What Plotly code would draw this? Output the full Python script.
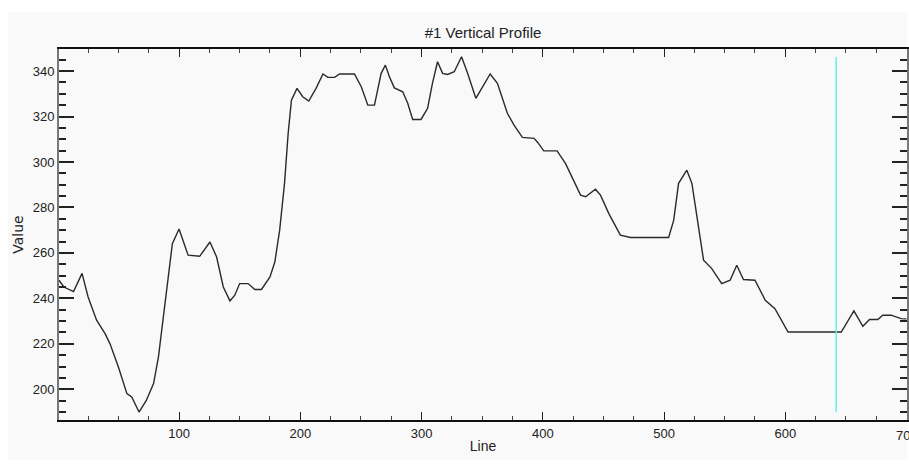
import plotly.graph_objects as go

# Profile data (Line index vs Value)
line_idx = [1, 5, 13, 20, 25, 32, 39, 43, 50, 57, 61, 67, 73, 79, 83, 87, 91, 94.5, 100,
            107.5, 117, 125.5, 131, 136.5, 142, 146, 150, 157, 162.5, 168, 175, 179, 183,
            187, 190, 192.7, 197.3, 202, 207, 213, 218.7, 222.8, 228.3, 232.4, 244.7, 250.3,
            255.7, 261.2, 266.7, 270.2, 273.5, 277.6, 284.5, 288.6, 292.7, 299.6, 305, 309,
            313.2, 317.4, 321.5, 327, 333, 338, 344.8, 350.3, 356.6, 362.6, 370.8, 376.3,
            383.2, 392.8, 396, 400.8, 411.8, 418.7, 424.2, 431.2, 435.3, 443.5, 447.6, 454.5,
            464, 472.3, 503.8, 508, 512, 518.8, 523, 527, 532.6, 539.4, 547.6, 554.5, 560,
            565.5, 575, 583.5, 591.5, 602.3, 646.2, 656.6, 664, 669.5, 676.3, 680.4, 687.3,
            695.5, 700]
values = [248, 245, 243, 251, 240.6, 230.4, 224.5, 220.1, 209.8, 198.1, 196.6, 190, 195.1,
          202.5, 214.2, 231.8, 250.9, 264.1, 270.5, 259, 258.5, 264.8, 258.2, 245, 238.9,
          241.4, 246.5, 246.5, 243.9, 243.9, 249.4, 256, 270, 290.6, 312.6, 327.2, 332.4,
          328.7, 326.8, 332.4, 338.7, 337.2, 337.2, 338.7, 338.7, 333.1, 325, 325, 339,
          342.6, 337.5, 332.6, 330.9, 325.8, 318.7, 318.7, 323.6, 334.6, 344.1, 339, 338.5,
          339.7, 346.3, 339, 328, 333.1, 338.7, 334.6, 321.4, 316.2, 310.8, 310.4, 308.5,
          304.9, 304.9, 299.4, 293.5, 285.4, 284.7, 288, 285.4, 277.3, 267.8, 266.8, 266.8,
          274.4, 290.6, 296.4, 290.6, 277.3, 256.8, 253.1, 246.5, 248, 254.6, 248.3, 248,
          239.2, 235.5, 225.2, 225.2, 234.5, 227.7, 230.7, 230.7, 232.6, 232.6, 231.1, 231]

cursor_line = [642]
cursor_span = [190, 346.2]

x_range = [1, 700.4]
y_range = [186.5, 349.7]
x_ticks = [100, 200, 300, 400, 500, 600, 700]

title_text = "#1 Vertical Profile"
x_title = "Line"
y_title = "Value"

FONT = "Liberation Sans, Arial, sans-serif"

fig = go.Figure()
fig.add_trace(go.Scatter(x=line_idx, y=values, mode="lines",
                         line=dict(color="#2a2a2a", width=1.4), hoverinfo="skip"))
fig.add_trace(go.Scatter(x=cursor_line * 2, y=cursor_span, mode="lines",
                         line=dict(color="#5ff2f2", width=1.5), hoverinfo="skip"))

W, H = 909, 465
L, R, T, B = 59, 0, 49, 45
pw, ph = W - L - R, H - T - B

def px2paper_x(px):
    return (px - L) / pw

def py2paper_y(py):
    return (H - B - py) / ph

fig.add_shape(type="rect", xref="paper", yref="paper", layer="below",
              x0=px2paper_x(8), x1=px2paper_x(909), y0=py2paper_y(460), y1=py2paper_y(12),
              fillcolor="#f9f9f9", line=dict(width=0))

# the last tick label (700) overflows the page edge and is clipped in the reference;
# plotly drops such labels, so draw it as an annotation at the tick position
fig.add_annotation(x=x_ticks[-1], xref="x", y=0, yref="paper", yshift=-6,
                   text=str(x_ticks[-1]), showarrow=False, xanchor="center", yanchor="top",
                   font=dict(family=FONT, size=13, color="#222"))

fig.update_layout(
    width=W, height=H,
    margin=dict(l=L, r=R, t=T, b=B),
    paper_bgcolor="white", plot_bgcolor="#f9f9f9",
    showlegend=False,
    font=dict(family=FONT, color="#222", size=13),
    title=dict(text=title_text, x=483 / W, xanchor="center",
               y=1 - 33 / H, yanchor="middle", font=dict(family=FONT, size=15, color="#222")),
)
fig.update_xaxes(
    range=x_range, showgrid=False, zeroline=False,
    showline=True, linecolor="#111", linewidth=2, mirror="ticks",
    ticks="inside", ticklen=8, tickwidth=1, tickcolor="#222",
    tickmode="array", tickvals=x_ticks, ticktext=[str(t) for t in x_ticks],
    minor=dict(ticks="inside", ticklen=4, dtick=25, tick0=0, tickcolor="#444", showgrid=False),
    tickfont=dict(family=FONT, size=13, color="#222"),
    title=dict(text=x_title, font=dict(family=FONT, size=14, color="#222"), standoff=2),
)
fig.update_yaxes(
    range=y_range, showgrid=False, zeroline=False,
    showline=True, linecolor="#777", linewidth=2, mirror="ticks",
    ticks="inside", ticklen=15, tickwidth=2, tickcolor="#222",
    dtick=20, tick0=0,
    minor=dict(ticks="inside", ticklen=7, dtick=5, tick0=0, tickcolor="#222", tickwidth=2,
               showgrid=False),
    tickfont=dict(family=FONT, size=13, color="#222"),
    title=dict(text=y_title, font=dict(family="DejaVu Sans, sans-serif", size=14, color="#222"),
               standoff=6),
)

fig.write_html("out.html", config={"displayModeBar": False},
               post_script="document.body.style.margin='0';document.body.style.overflow='hidden';")
